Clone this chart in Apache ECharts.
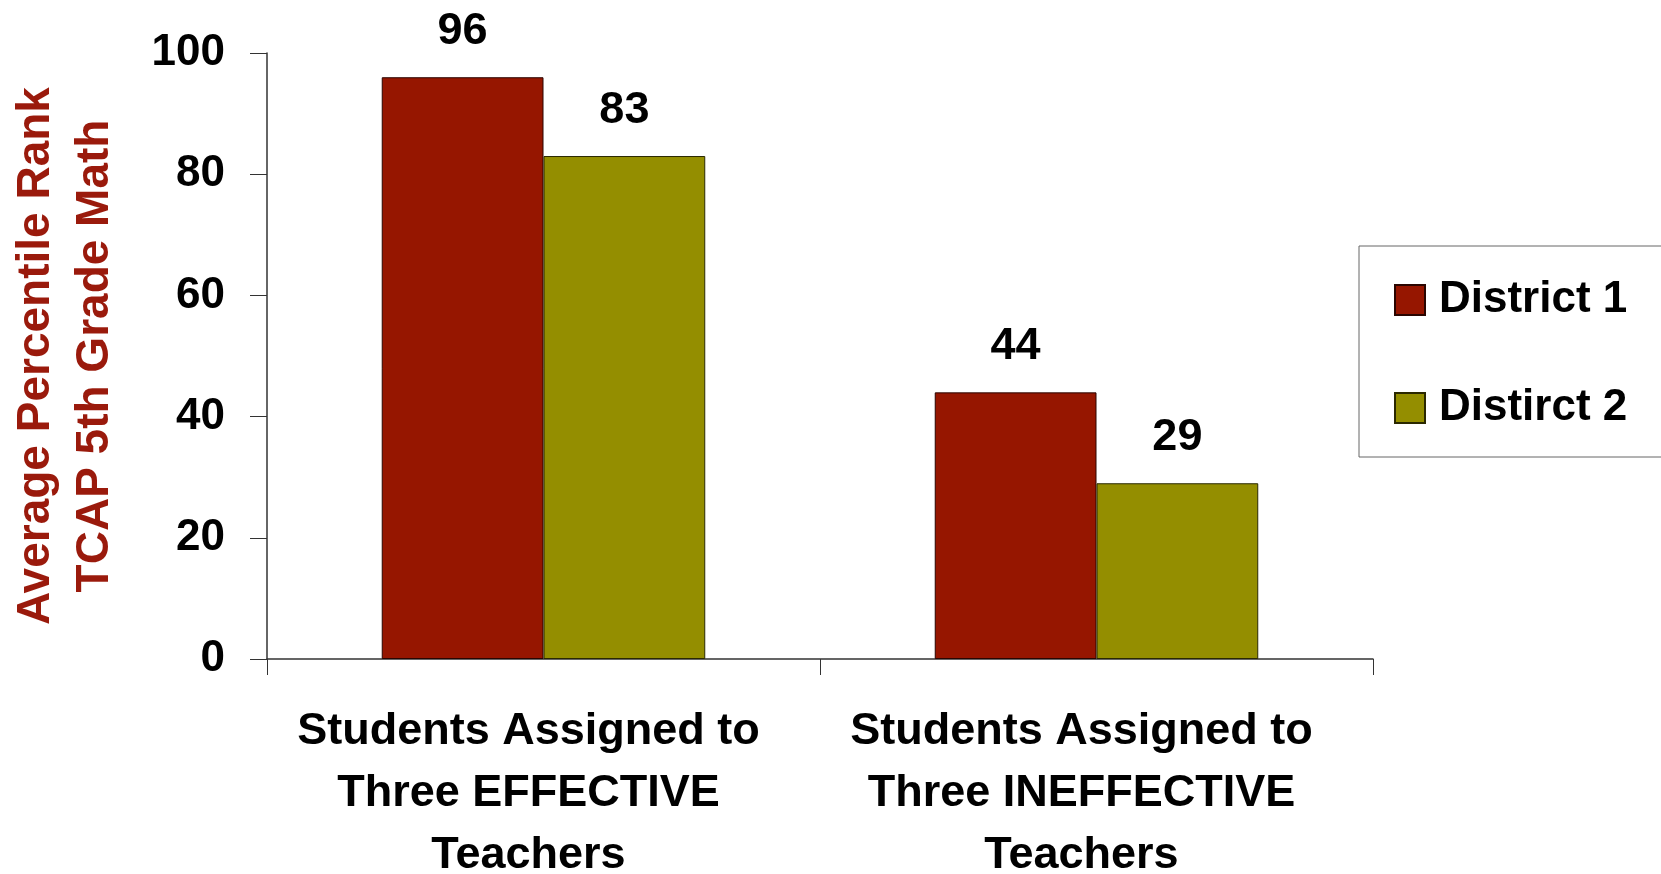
<!DOCTYPE html>
<html>
<head>
<meta charset="utf-8">
<script src="https://cdn.jsdelivr.net/npm/echarts@6/dist/echarts.min.js"></script>
<style>
  html, body { margin: 0; padding: 0; background: #fff; }
  #chart { width: 1661px; height: 874px; }
</style>
</head>
<body>
<div id="chart"></div>
<script>
// 分类与数据
const categories = [
  'Students Assigned to\nThree EFFECTIVE\nTeachers',
  'Students Assigned to\nThree INEFFECTIVE\nTeachers'
]
const seriesNames = ['District 1', 'Distirct 2']
const district1 = [96, 44]
const district2 = [83, 29]
const yTicks = [0, 20, 40, 60, 80, 100]

const FONT = 'Liberation Sans, Arial, sans-serif'
const RED = '#961600'
const OLIVE = '#948e00'

const chart = echarts.init(document.getElementById('chart'))

const labelStyle = {
  show: true,
  position: 'top',
  distance: 23,
  color: '#000',
  fontFamily: FONT,
  fontWeight: 'bold',
  fontSize: 45
}

chart.setOption({
  animation: false,
  backgroundColor: '#fff',
  grid: { left: 267, right: 288, top: 53, bottom: 215, outerBoundsMode: 'none', containLabel: false },
  legend: {
    orient: 'vertical',
    left: 1359,
    top: 246,
    padding: [32, 120, 27, 35],
    itemGap: 64,
    itemWidth: 30,
    itemHeight: 30,
    icon: 'rect',
    borderColor: '#666',
    borderWidth: 1,
    textStyle: {
      color: '#000',
      fontFamily: FONT,
      fontWeight: 'bold',
      fontSize: 44,
      lineHeight: 44,
      padding: [0, 0, 0, 9]
    },
    data: seriesNames
  },
  xAxis: {
    type: 'category',
    data: categories,
    axisLine: { lineStyle: { color: '#333', width: 1.5 } },
    axisTick: { show: true, length: 16, lineStyle: { color: '#333' } },
    axisLabel: {
      interval: 0,
      margin: 42,
      color: '#000',
      fontFamily: FONT,
      fontWeight: 'bold',
      fontSize: 45,
      lineHeight: 62,
      padding: [0, 30, 0, 0]
    }
  },
  yAxis: {
    type: 'value',
    min: 0,
    max: 100,
    interval: 20,
    name: 'Average Percentile Rank\nTCAP 5th Grade Math',
    nameLocation: 'middle',
    nameGap: 142,
    nameRotate: 90,
    nameTextStyle: {
      color: '#9a1a0c',
      fontFamily: FONT,
      fontWeight: 'bold',
      fontSize: 46,
      lineHeight: 59
    },
    axisLine: { show: true, lineStyle: { color: '#333', width: 1.5 } },
    axisTick: { show: true, length: 17, lineStyle: { color: '#333' } },
    splitLine: { show: false },
    axisLabel: {
      margin: 42,
      color: '#000',
      fontFamily: FONT,
      fontWeight: 'bold',
      fontSize: 44,
      formatter: v => yTicks.includes(v) ? String(v) : ''
    }
  },
  series: [
    {
      name: seriesNames[0],
      type: 'bar',
      data: district1,
      barGap: '0%',
      barCategoryGap: '41.5%',
      itemStyle: { color: RED, borderColor: '#2a0500', borderWidth: 1 },
      label: labelStyle
    },
    {
      name: seriesNames[1],
      type: 'bar',
      data: district2,
      itemStyle: { color: OLIVE, borderColor: '#2a2800', borderWidth: 1 },
      label: labelStyle
    }
  ]
})
</script>
</body>
</html>
